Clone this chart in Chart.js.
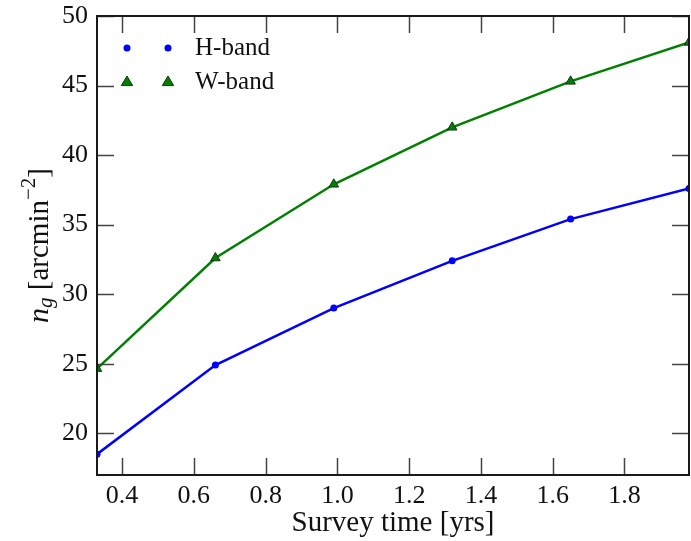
<!DOCTYPE html>
<html>
<head>
<meta charset="utf-8">
<script src="https://cdn.jsdelivr.net/npm/chart.js@4.4.0/dist/chart.umd.min.js"></script>
<style>
  html, body { margin: 0; padding: 0; background: #fff; }
</style>
</head>
<body>
<canvas id="ngChart" width="691" height="541"></canvas>
<script>
// survey time in years
var surveyTime = [0.33, 0.66, 0.99, 1.32, 1.65, 1.98];
// galaxy number density per band
var hBand = [18.5, 24.9, 29.0, 32.4, 35.4, 37.6];
var wBand = [24.65, 32.6, 37.9, 42.0, 45.3, 48.1];

var xTicks = [0.4, 0.6, 0.8, 1.0, 1.2, 1.4, 1.6, 1.8];
var yTicks = [20, 25, 30, 35, 40, 45, 50];

var serif = "'Liberation Serif', 'DejaVu Serif', serif";
var blue = '#0000ff';
var green = '#008000';

function pairs(xs, ys) {
    return xs.map(function (x, i) { return { x: x, y: ys[i] }; });
}

function triangle(ctx, x, y, r) {
    ctx.beginPath();
    ctx.moveTo(x, y - r);
    ctx.lineTo(x + r * 0.95, y + r * 0.6);
    ctx.lineTo(x - r * 0.95, y + r * 0.6);
    ctx.closePath();
}

// keep the plot box where the layout puts it, no room for label overhang
function noPadding(s) {
    s.paddingTop = 0;
    s.paddingBottom = 0;
    s.paddingLeft = 0;
    s.paddingRight = 0;
}

// inward tick marks on all four sides plus the box
var frame = {
    id: 'frame',
    afterDatasetsDraw: function (chart) {
        var ctx = chart.ctx, a = chart.chartArea;
        var xs = chart.scales.x, ys = chart.scales.y;
        var len = 17;
        ctx.save();
        ctx.strokeStyle = '#444';
        ctx.lineWidth = 1.5;
        ctx.beginPath();
        xs.ticks.forEach(function (t) {
            var px = Math.round(xs.getPixelForValue(t.value)) + 0.5;
            ctx.moveTo(px, a.bottom); ctx.lineTo(px, a.bottom - len);
            ctx.moveTo(px, a.top); ctx.lineTo(px, a.top + len);
        });
        ys.ticks.forEach(function (t) {
            var py = Math.round(ys.getPixelForValue(t.value)) + 0.5;
            ctx.moveTo(a.left, py); ctx.lineTo(a.left + len, py);
            ctx.moveTo(a.right, py); ctx.lineTo(a.right - len, py);
        });
        ctx.stroke();
        ctx.strokeStyle = '#1a1a1a';
        ctx.lineWidth = 2;
        ctx.strokeRect(a.left, a.top, a.right - a.left, a.bottom - a.top);
        ctx.restore();
    },
    afterDraw: function (chart) {
        var ctx = chart.ctx;
        ctx.save();

        // legend: two markers per entry, then the label
        var rows = [
            { label: 'H-band', y: 48, kind: 'circle' },
            { label: 'W-band', y: 82, kind: 'triangle' }
        ];
        rows.forEach(function (row) {
            [127, 168].forEach(function (mx) {
                if (row.kind === 'circle') {
                    ctx.beginPath();
                    ctx.arc(mx, row.y, 3.5, 0, Math.PI * 2);
                    ctx.fillStyle = blue;
                    ctx.fill();
                } else {
                    triangle(ctx, mx, row.y, 6);
                    ctx.fillStyle = green;
                    ctx.fill();
                    ctx.strokeStyle = '#173317';
                    ctx.lineWidth = 1;
                    ctx.stroke();
                }
            });
            ctx.fillStyle = '#111';
            ctx.font = '25px ' + serif;
            ctx.textBaseline = 'middle';
            ctx.textAlign = 'left';
            ctx.fillText(row.label, 195, row.y);
        });

        // y axis title: n_g [arcmin^-2]
        var parts = [
            { t: 'n', size: 30, style: 'italic ', dy: 0 },
            { t: 'g', size: 21, style: 'italic ', dy: 6 },
            { t: ' [arcmin', size: 29, style: '', dy: 0 },
            { t: '\u22122', size: 21, style: '', dy: -11 },
            { t: ']', size: 29, style: '', dy: 0 }
        ];
        var total = 0;
        parts.forEach(function (p) {
            ctx.font = p.style + p.size + 'px ' + serif;
            p.w = ctx.measureText(p.t).width;
            total += p.w;
        });
        var yMid = (chart.chartArea.top + chart.chartArea.bottom) / 2;
        ctx.translate(40, yMid);
        ctx.rotate(-Math.PI / 2);
        ctx.textBaseline = 'middle';
        ctx.textAlign = 'left';
        ctx.fillStyle = '#111';
        var cx = -total / 2;
        parts.forEach(function (p) {
            ctx.font = p.style + p.size + 'px ' + serif;
            ctx.fillText(p.t, cx, p.dy);
            cx += p.w;
        });
        ctx.restore();
    }
};

var ctx = document.getElementById('ngChart').getContext('2d');
var chart = new Chart(ctx, {
    type: 'line',
    data: {
        datasets: [{
            label: 'H-band',
            data: pairs(surveyTime, hBand),
            borderColor: blue,
            backgroundColor: blue,
            borderWidth: 2.5,
            pointRadius: 3.5,
            pointBorderWidth: 0,
            pointBackgroundColor: blue,
            tension: 0
        }, {
            label: 'W-band',
            data: pairs(surveyTime, wBand),
            borderColor: green,
            backgroundColor: green,
            borderWidth: 2.5,
            pointStyle: 'triangle',
            pointRadius: 5.5,
            pointBorderWidth: 1,
            pointBorderColor: '#173317',
            pointBackgroundColor: green,
            tension: 0
        }]
    },
    options: {
        responsive: false,
        animation: false,
        layout: { autoPadding: false, padding: { top: 16, right: 2, left: 0, bottom: 0 } },
        plugins: {
            legend: { display: false },
            tooltip: { enabled: false }
        },
        scales: {
            x: {
                type: 'linear',
                min: 0.33,
                max: 1.98,
                grid: { display: false, drawTicks: false },
                border: { display: false },
                afterBuildTicks: function (s) {
                    s.ticks = xTicks.map(function (v) { return { value: v }; });
                },
                afterFit: function (s) { s.height = 66; noPadding(s); },
                ticks: {
                    padding: 6,
                    color: '#111',
                    font: { family: serif, size: 26 },
                    maxRotation: 0,
                    callback: function (v) { return v.toFixed(1); }
                },
                title: {
                    display: true,
                    text: 'Survey time [yrs]',
                    color: '#111',
                    font: { family: serif, size: 29 },
                    padding: { top: 0, bottom: 0 }
                }
            },
            y: {
                min: 17,
                max: 50,
                grid: { display: false, drawTicks: false },
                border: { display: false },
                afterBuildTicks: function (s) {
                    s.ticks = yTicks.map(function (v) { return { value: v }; });
                },
                afterFit: function (s) { s.width = 97; noPadding(s); },
                ticks: {
                    padding: 9,
                    color: '#111',
                    font: { family: serif, size: 26 },
                    callback: function (v) { return String(v); }
                }
            }
        }
    },
    plugins: [frame]
});
</script>
</body>
</html>
